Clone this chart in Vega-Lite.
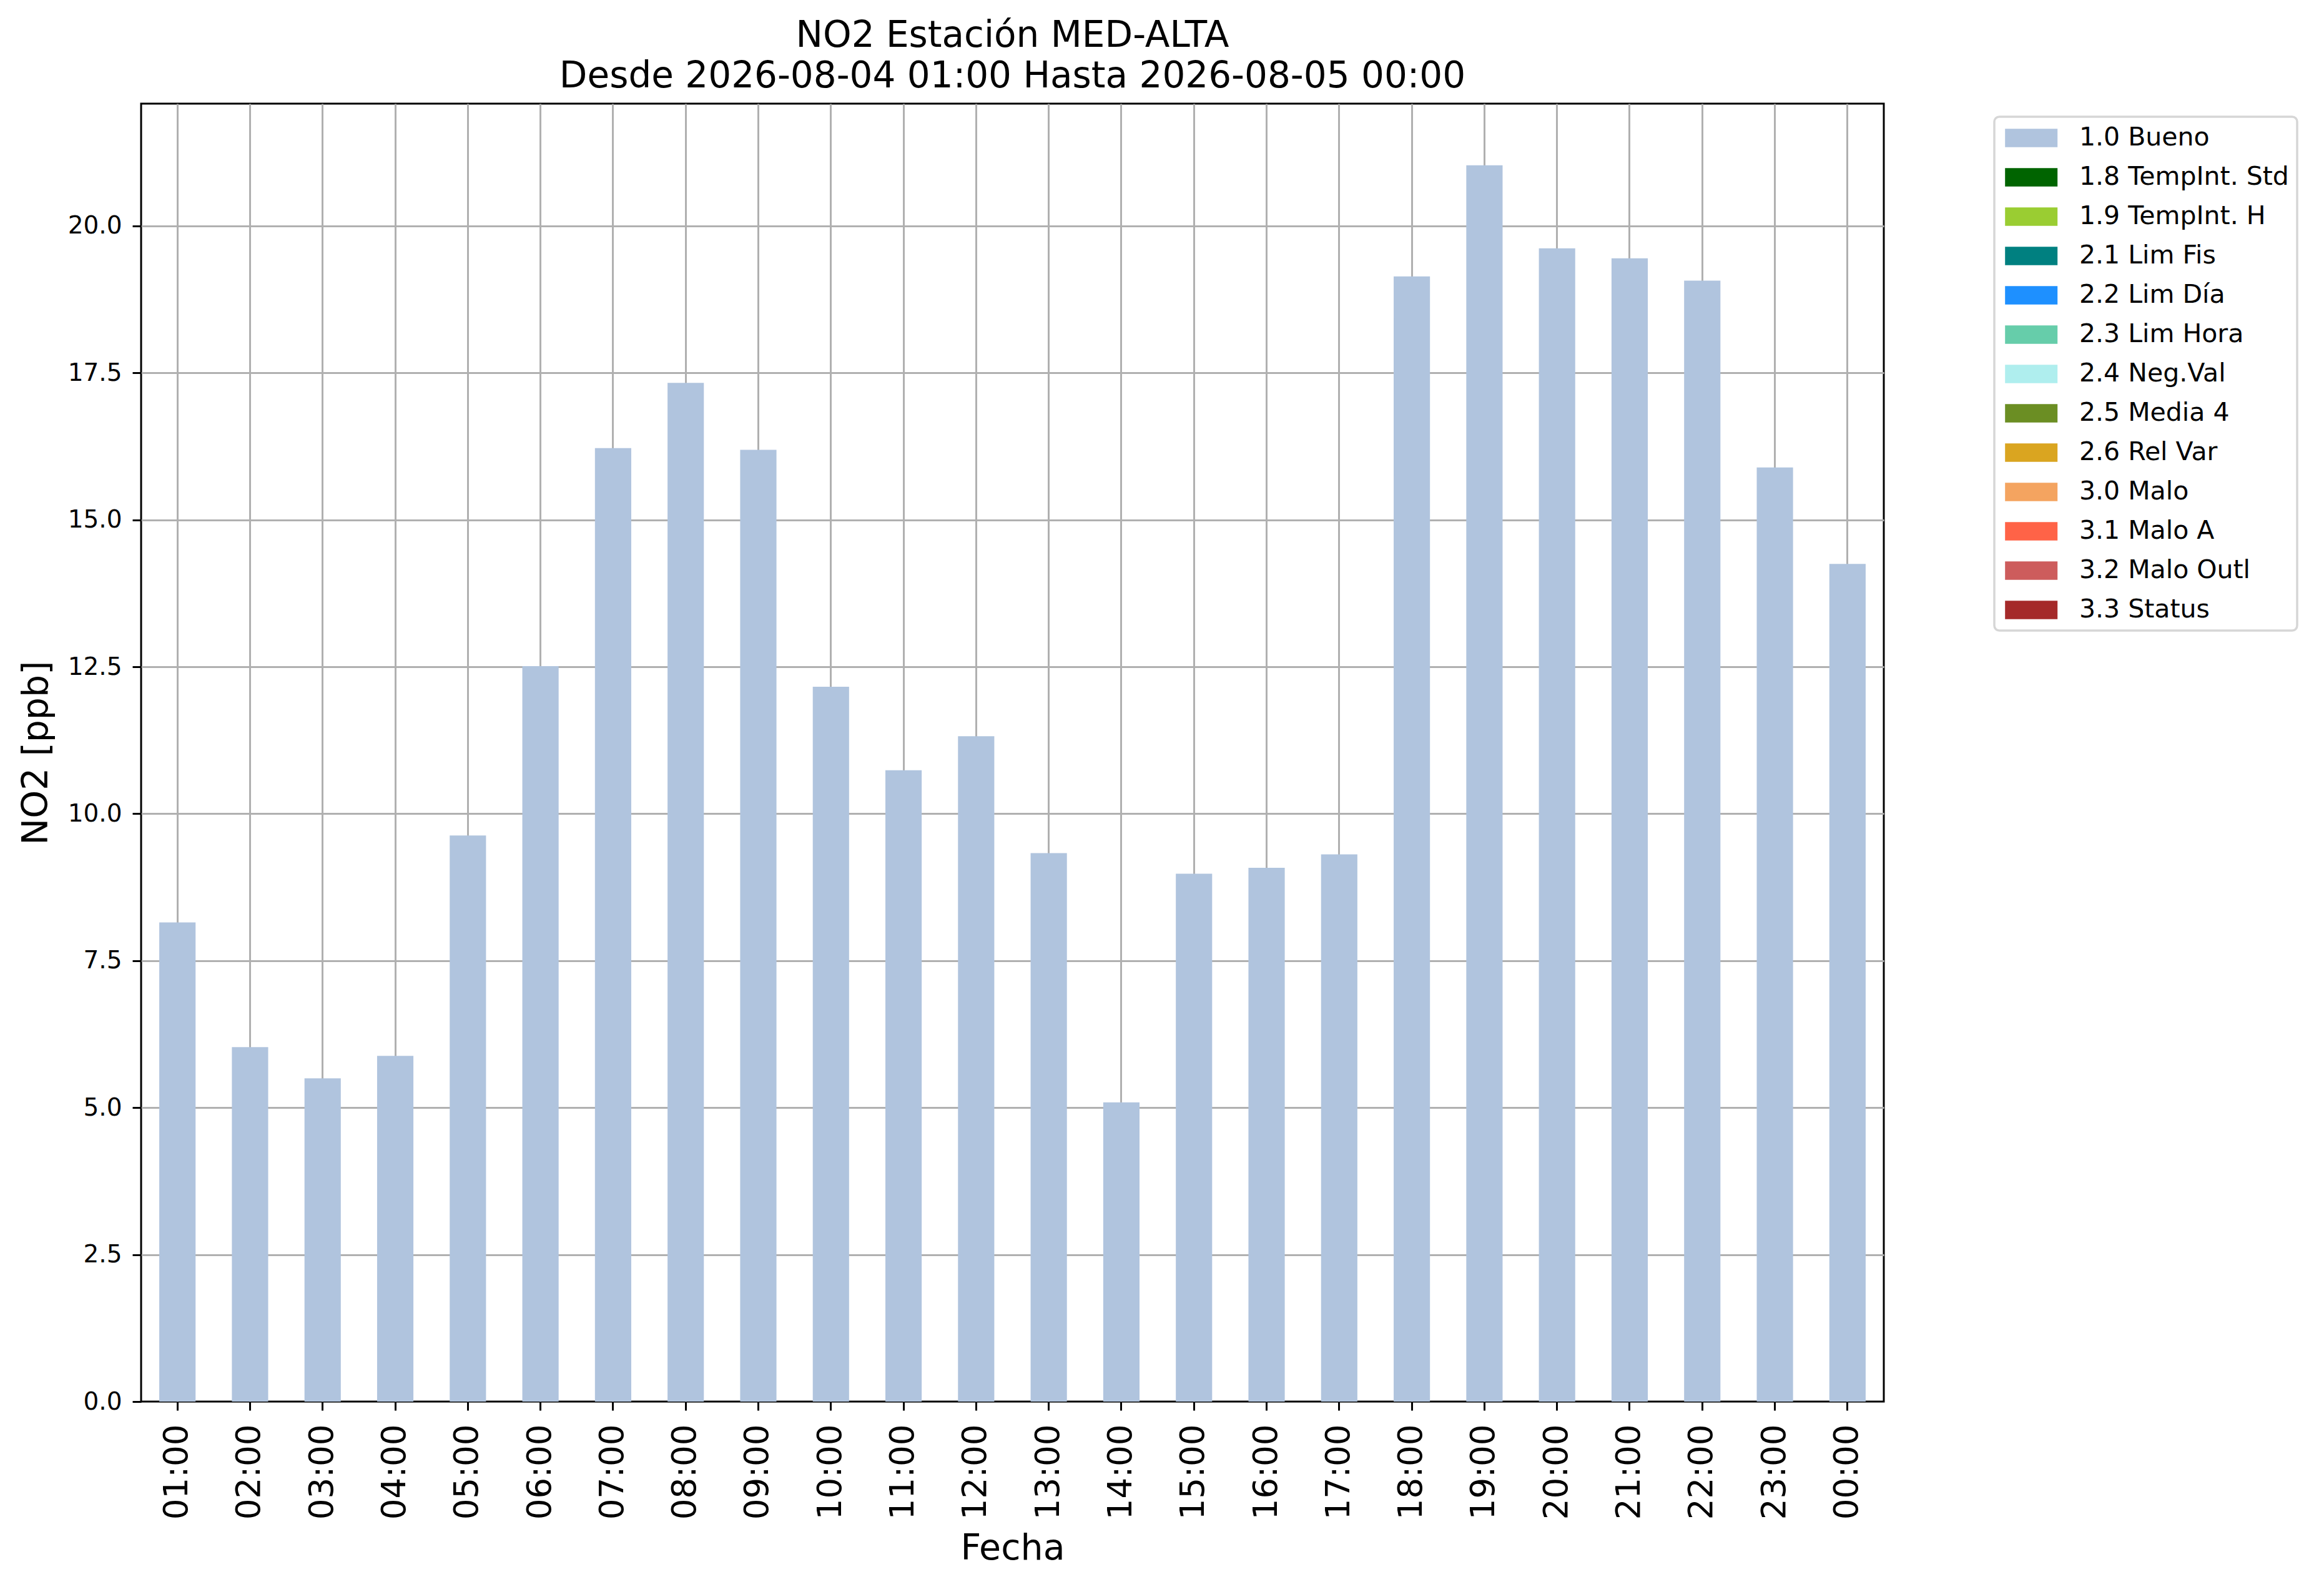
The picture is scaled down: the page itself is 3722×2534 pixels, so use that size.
{
  "$schema": "https://vega.github.io/schema/vega-lite/v6.json",
  "width": 2791,
  "height": 2079,
  "autosize": {"type": "none"},
  "padding": {"left": 226, "top": 166, "right": 705, "bottom": 289},
  "background": "white",
  "title": {
    "text": ["NO2 Estación MED-ALTA", "Desde 2026-08-04 01:00 Hasta 2026-08-05 00:00"],
    "font": "DejaVu Sans",
    "fontSize": 58,
    "fontWeight": "normal",
    "color": "black",
    "lineHeight": 65,
    "anchor": "middle",
    "frame": "group",
    "offset": 14
  },
  "data": {
    "values": [
      {"hora": "01:00", "valor": 8.15, "estado": "1.0 Bueno"},
      {"hora": "02:00", "valor": 6.03, "estado": "1.0 Bueno"},
      {"hora": "03:00", "valor": 5.50, "estado": "1.0 Bueno"},
      {"hora": "04:00", "valor": 5.88, "estado": "1.0 Bueno"},
      {"hora": "05:00", "valor": 9.63, "estado": "1.0 Bueno"},
      {"hora": "06:00", "valor": 12.51, "estado": "1.0 Bueno"},
      {"hora": "07:00", "valor": 16.22, "estado": "1.0 Bueno"},
      {"hora": "08:00", "valor": 17.33, "estado": "1.0 Bueno"},
      {"hora": "09:00", "valor": 16.19, "estado": "1.0 Bueno"},
      {"hora": "10:00", "valor": 12.16, "estado": "1.0 Bueno"},
      {"hora": "11:00", "valor": 10.74, "estado": "1.0 Bueno"},
      {"hora": "12:00", "valor": 11.32, "estado": "1.0 Bueno"},
      {"hora": "13:00", "valor": 9.33, "estado": "1.0 Bueno"},
      {"hora": "14:00", "valor": 5.09, "estado": "1.0 Bueno"},
      {"hora": "15:00", "valor": 8.98, "estado": "1.0 Bueno"},
      {"hora": "16:00", "valor": 9.08, "estado": "1.0 Bueno"},
      {"hora": "17:00", "valor": 9.31, "estado": "1.0 Bueno"},
      {"hora": "18:00", "valor": 19.14, "estado": "1.0 Bueno"},
      {"hora": "19:00", "valor": 21.03, "estado": "1.0 Bueno"},
      {"hora": "20:00", "valor": 19.62, "estado": "1.0 Bueno"},
      {"hora": "21:00", "valor": 19.45, "estado": "1.0 Bueno"},
      {"hora": "22:00", "valor": 19.07, "estado": "1.0 Bueno"},
      {"hora": "23:00", "valor": 15.89, "estado": "1.0 Bueno"},
      {"hora": "00:00", "valor": 14.25, "estado": "1.0 Bueno"}
    ]
  },
  "mark": {"type": "bar"},
  "encoding": {
    "x": {
      "field": "hora",
      "type": "nominal",
      "sort": null,
      "scale": {"paddingInner": 0.5, "paddingOuter": 0.25},
      "axis": {
        "title": "Fecha",
        "labelAngle": 270,
        "labelFontSize": 53,
        "labelPadding": 22,
        "titlePadding": 19,
        "bandPosition": 0.5
      }
    },
    "y": {
      "field": "valor",
      "type": "quantitative",
      "scale": {"domain": [0, 22.08], "nice": false, "zero": true},
      "axis": {
        "title": "NO2 [ppb]",
        "values": [0, 2.5, 5, 7.5, 10, 12.5, 15, 17.5, 20],
        "format": ".1f",
        "labelFontSize": 39,
        "labelPadding": 17,
        "titlePadding": 21,
        "gridOpacity": {"condition": {"test": "datum.value === 0", "value": 0}, "value": 1}
      }
    },
    "color": {
      "field": "estado",
      "type": "nominal",
      "scale": {
        "domain": ["1.0 Bueno", "1.8 TempInt. Std", "1.9 TempInt. H", "2.1 Lim Fis", "2.2 Lim Día", "2.3 Lim Hora", "2.4 Neg.Val", "2.5 Media 4", "2.6 Rel Var", "3.0 Malo", "3.1 Malo A", "3.2 Malo Outl", "3.3 Status"],
        "range": ["#B0C4DE", "#006400", "#9ACD32", "#008080", "#1E90FF", "#66CDAA", "#AFEEEE", "#6B8E23", "#DAA520", "#F4A460", "#FF6347", "#CD5C5C", "#A52A2A"]
      },
      "legend": {
        "title": null,
        "orient": "none",
        "legendX": 2968,
        "legendY": 21,
        "direction": "vertical",
        "symbolType": "M-0.8,-0.7H3.2V0.7H-0.8Z",
        "symbolSize": 1764,
        "symbolStrokeWidth": 0,
        "symbolOpacity": 1,
        "labelFont": "DejaVu Sans",
        "labelFontSize": 41,
        "labelColor": "black",
        "labelLimit": 1000,
        "labelOffset": 81,
        "rowPadding": 22,
        "padding": 13,
        "fillColor": "white",
        "strokeColor": "#d6d6d6",
        "cornerRadius": 8,
        "encode": {
          "legend": {"update": {"strokeWidth": {"value": 3.5}}}
        }
      }
    }
  },
  "config": {
    "font": "DejaVu Sans",
    "view": {"stroke": "black", "strokeWidth": 3},
    "axis": {
      "domain": false,
      "grid": true,
      "gridColor": "#b0b0b0",
      "gridWidth": 3,
      "zindex": 1,
      "tickColor": "black",
      "tickWidth": 3,
      "tickSize": 14,
      "labelColor": "black",
      "labelFont": "DejaVu Sans",
      "titleFont": "DejaVu Sans",
      "titleFontSize": 57,
      "titleFontWeight": "normal",
      "titleColor": "black"
    }
  }
}
